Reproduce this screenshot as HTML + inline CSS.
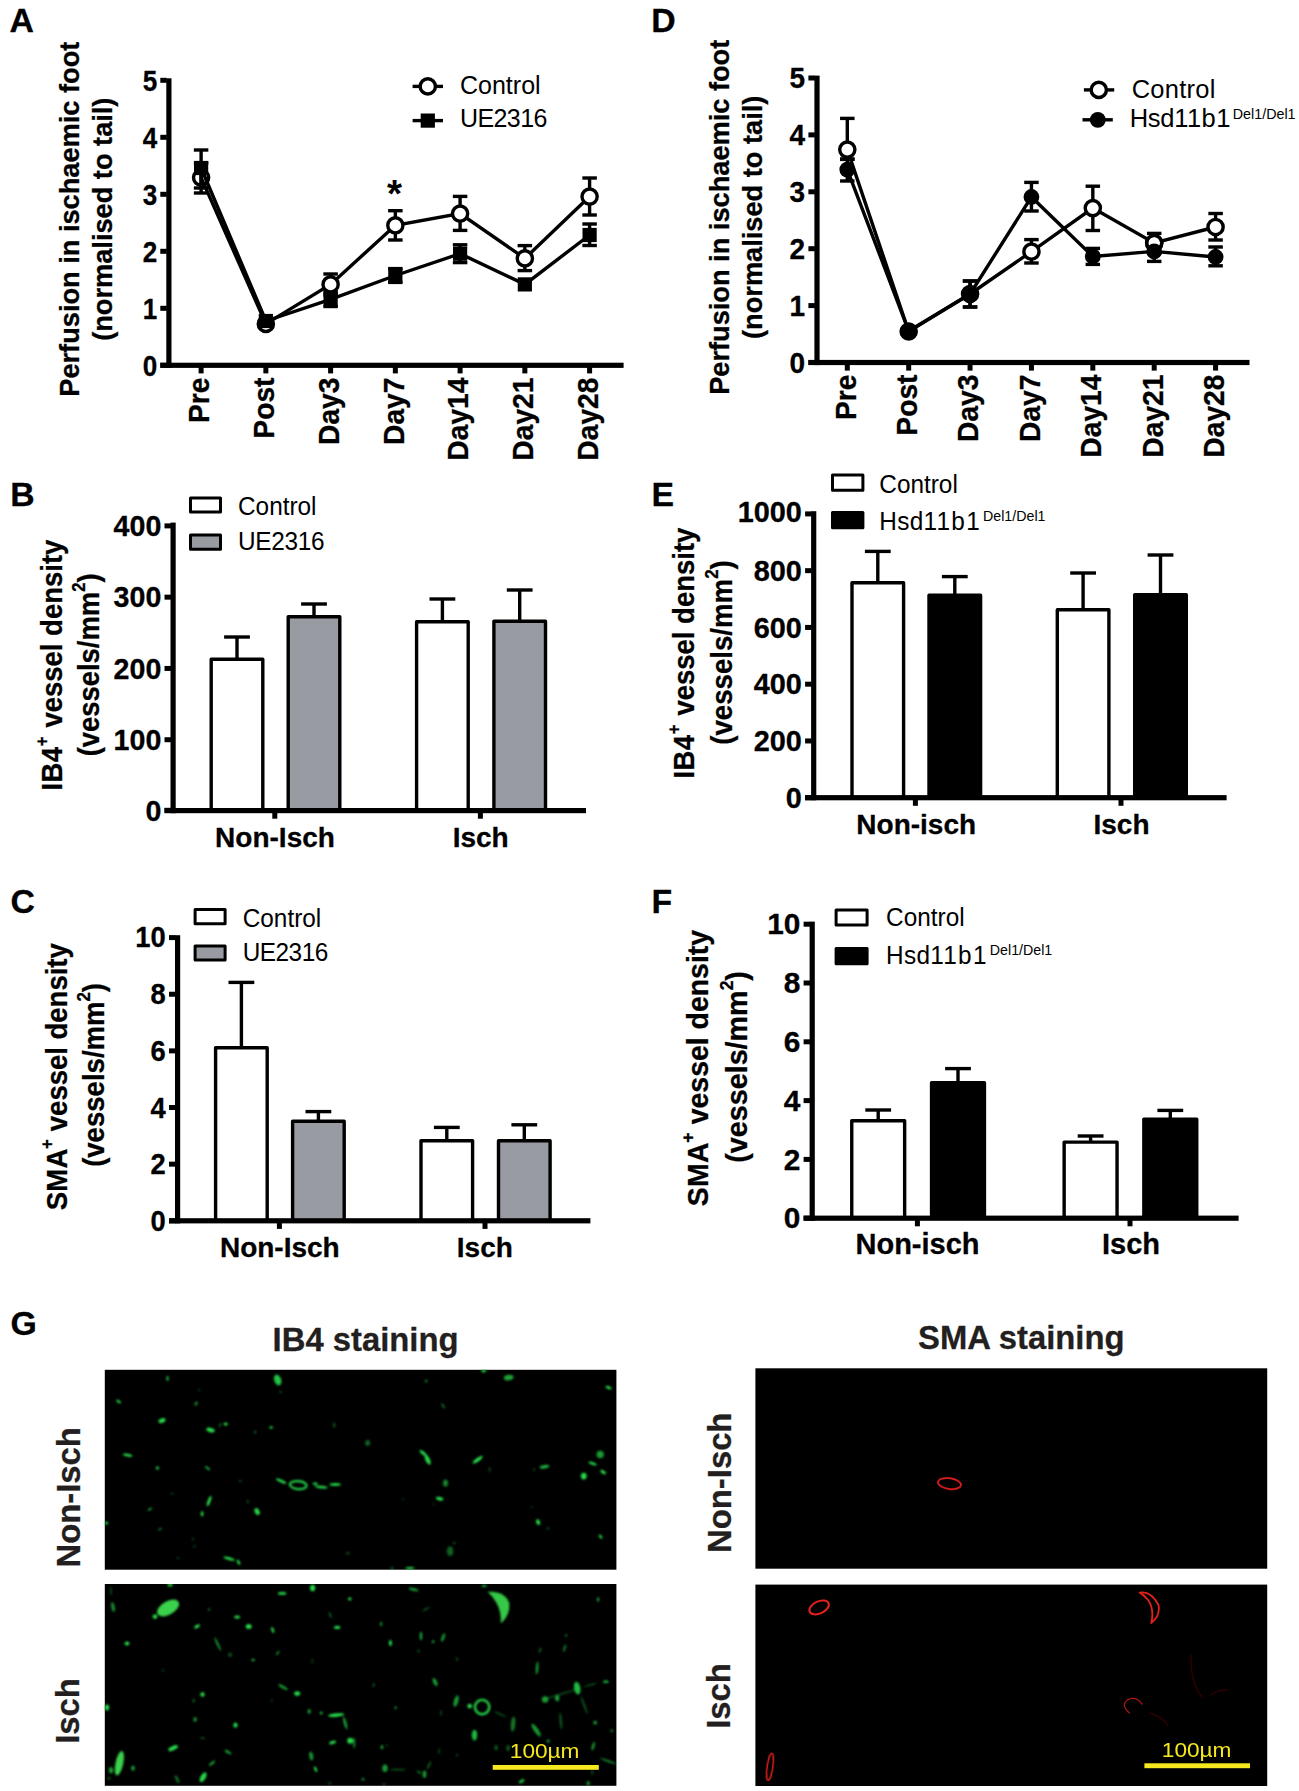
<!DOCTYPE html>
<html lang="en"><head><meta charset="utf-8"><title>Figure</title>
<style>
html,body{margin:0;padding:0;background:#fff;}
svg{display:block;font-family:"Liberation Sans", Arial, Helvetica, sans-serif;}
svg text[font-weight="bold"]{stroke:#000;stroke-width:0.3px;stroke-linejoin:round;}
</style></head>
<body>
<svg width="1299" height="1791" viewBox="0 0 1299 1791">
<defs><clipPath id="c1"><rect x="104.8" y="1369.8" width="511.6" height="199.9"/></clipPath><clipPath id="c2"><rect x="104.8" y="1584.0" width="511.6" height="201.8"/></clipPath><clipPath id="c3"><rect x="755.4" y="1368.3" width="511.8" height="200.4"/></clipPath><clipPath id="c4"><rect x="755.4" y="1584.6" width="511.8" height="201.4"/></clipPath><filter id="soft" x="-5%" y="-5%" width="110%" height="110%"><feGaussianBlur stdDeviation="1.0"/></filter><filter id="soft2" x="-5%" y="-5%" width="110%" height="110%"><feGaussianBlur stdDeviation="0.6"/></filter></defs>
<rect x="0" y="0" width="1299" height="1791" fill="#fff"/>
<text font-size="33.8" font-weight="bold" text-anchor="start" fill="#000" transform="translate(9.5 31.5)">A</text>
<rect x="166.30" y="78.30" width="5.20" height="289.60" fill="#000"/>
<rect x="160.30" y="362.70" width="463.30" height="5.20" fill="#000"/>
<rect x="160.30" y="362.80" width="6.50" height="5.00" fill="#000"/>
<text font-size="28.6" font-weight="bold" text-anchor="end" fill="#000" transform="translate(157.1 375.54) scale(0.91 1)">0</text>
<rect x="160.30" y="305.80" width="6.50" height="5.00" fill="#000"/>
<text font-size="28.6" font-weight="bold" text-anchor="end" fill="#000" transform="translate(157.1 318.54) scale(0.91 1)">1</text>
<rect x="160.30" y="248.80" width="6.50" height="5.00" fill="#000"/>
<text font-size="28.6" font-weight="bold" text-anchor="end" fill="#000" transform="translate(157.1 261.54) scale(0.91 1)">2</text>
<rect x="160.30" y="191.80" width="6.50" height="5.00" fill="#000"/>
<text font-size="28.6" font-weight="bold" text-anchor="end" fill="#000" transform="translate(157.1 204.54) scale(0.91 1)">3</text>
<rect x="160.30" y="134.80" width="6.50" height="5.00" fill="#000"/>
<text font-size="28.6" font-weight="bold" text-anchor="end" fill="#000" transform="translate(157.1 147.54) scale(0.91 1)">4</text>
<rect x="160.30" y="77.80" width="6.50" height="5.00" fill="#000"/>
<text font-size="28.6" font-weight="bold" text-anchor="end" fill="#000" transform="translate(157.1 90.54) scale(0.91 1)">5</text>
<rect x="198.60" y="365.30" width="5.00" height="8.10" fill="#000"/>
<rect x="263.35" y="365.30" width="5.00" height="8.10" fill="#000"/>
<rect x="328.10" y="365.30" width="5.00" height="8.10" fill="#000"/>
<rect x="392.85" y="365.30" width="5.00" height="8.10" fill="#000"/>
<rect x="457.60" y="365.30" width="5.00" height="8.10" fill="#000"/>
<rect x="522.35" y="365.30" width="5.00" height="8.10" fill="#000"/>
<rect x="587.10" y="365.30" width="5.00" height="8.10" fill="#000"/>
<text font-size="28.4" font-weight="bold" text-anchor="middle" transform="translate(79.3 219.2) rotate(-90) scale(0.958 1)">Perfusion in ischaemic foot</text>
<text font-size="28.4" font-weight="bold" text-anchor="middle" transform="translate(112.0 219.2) rotate(-90) scale(0.958 1)">(normalised to tail)</text>
<text font-size="28.8" font-weight="bold" text-anchor="end" transform="translate(209.3 377.5) rotate(-90) scale(0.98 1)">Pre</text>
<text font-size="28.8" font-weight="bold" text-anchor="end" transform="translate(274.05 377.5) rotate(-90) scale(0.98 1)">Post</text>
<text font-size="28.8" font-weight="bold" text-anchor="end" transform="translate(338.8 377.5) rotate(-90) scale(0.98 1)">Day3</text>
<text font-size="28.8" font-weight="bold" text-anchor="end" transform="translate(403.55 377.5) rotate(-90) scale(0.98 1)">Day7</text>
<text font-size="28.8" font-weight="bold" text-anchor="end" transform="translate(468.3 377.5) rotate(-90) scale(0.98 1)">Day14</text>
<text font-size="28.8" font-weight="bold" text-anchor="end" transform="translate(533.05 377.5) rotate(-90) scale(0.98 1)">Day21</text>
<text font-size="28.8" font-weight="bold" text-anchor="end" transform="translate(597.8 377.5) rotate(-90) scale(0.98 1)">Day28</text>
<polyline points="201.1,168.0 265.9,321.0 330.6,299.4 395.4,275.5 460.1,253.7 524.9,284.4 589.6,235.0" fill="none" stroke="#000" stroke-width="3.4" stroke-linejoin="miter"/>
<polyline points="201.1,177.6 265.9,323.9 330.6,284.4 395.4,225.3 460.1,213.6 524.9,258.4 589.6,196.6" fill="none" stroke="#000" stroke-width="3.4" stroke-linejoin="miter"/>
<line x1="201.1" y1="163" x2="201.1" y2="193" stroke="#000" stroke-width="3.4" stroke-linecap="butt"/>
<line x1="193.85" y1="163" x2="208.35" y2="163" stroke="#000" stroke-width="3.4" stroke-linecap="butt"/>
<line x1="193.85" y1="193" x2="208.35" y2="193" stroke="#000" stroke-width="3.4" stroke-linecap="butt"/>
<line x1="201.1" y1="150" x2="201.1" y2="188" stroke="#000" stroke-width="3.4" stroke-linecap="butt"/>
<line x1="193.85" y1="150" x2="208.35" y2="150" stroke="#000" stroke-width="3.4" stroke-linecap="butt"/>
<line x1="193.85" y1="188" x2="208.35" y2="188" stroke="#000" stroke-width="3.4" stroke-linecap="butt"/>
<line x1="330.6" y1="292" x2="330.6" y2="306.5" stroke="#000" stroke-width="3.4" stroke-linecap="butt"/>
<line x1="323.35" y1="292" x2="337.85" y2="292" stroke="#000" stroke-width="3.4" stroke-linecap="butt"/>
<line x1="323.35" y1="306.5" x2="337.85" y2="306.5" stroke="#000" stroke-width="3.4" stroke-linecap="butt"/>
<line x1="395.35" y1="268.6" x2="395.35" y2="282.4" stroke="#000" stroke-width="3.4" stroke-linecap="butt"/>
<line x1="388.1" y1="268.6" x2="402.6" y2="268.6" stroke="#000" stroke-width="3.4" stroke-linecap="butt"/>
<line x1="388.1" y1="282.4" x2="402.6" y2="282.4" stroke="#000" stroke-width="3.4" stroke-linecap="butt"/>
<line x1="460.1" y1="244.8" x2="460.1" y2="262.6" stroke="#000" stroke-width="3.4" stroke-linecap="butt"/>
<line x1="452.85" y1="244.8" x2="467.35" y2="244.8" stroke="#000" stroke-width="3.4" stroke-linecap="butt"/>
<line x1="452.85" y1="262.6" x2="467.35" y2="262.6" stroke="#000" stroke-width="3.4" stroke-linecap="butt"/>
<line x1="589.6" y1="224" x2="589.6" y2="245.5" stroke="#000" stroke-width="3.4" stroke-linecap="butt"/>
<line x1="582.35" y1="224" x2="596.85" y2="224" stroke="#000" stroke-width="3.4" stroke-linecap="butt"/>
<line x1="582.35" y1="245.5" x2="596.85" y2="245.5" stroke="#000" stroke-width="3.4" stroke-linecap="butt"/>
<rect x="194.00" y="160.90" width="14.20" height="14.20" fill="#000"/>
<rect x="258.75" y="313.90" width="14.20" height="14.20" fill="#000"/>
<rect x="323.50" y="292.30" width="14.20" height="14.20" fill="#000"/>
<rect x="388.25" y="268.40" width="14.20" height="14.20" fill="#000"/>
<rect x="453.00" y="246.60" width="14.20" height="14.20" fill="#000"/>
<rect x="517.75" y="277.30" width="14.20" height="14.20" fill="#000"/>
<rect x="582.50" y="227.90" width="14.20" height="14.20" fill="#000"/>
<line x1="330.6" y1="274" x2="330.6" y2="295" stroke="#000" stroke-width="3.4" stroke-linecap="butt"/>
<line x1="323.35" y1="274" x2="337.85" y2="274" stroke="#000" stroke-width="3.4" stroke-linecap="butt"/>
<line x1="323.35" y1="295" x2="337.85" y2="295" stroke="#000" stroke-width="3.4" stroke-linecap="butt"/>
<line x1="395.35" y1="210.7" x2="395.35" y2="240" stroke="#000" stroke-width="3.4" stroke-linecap="butt"/>
<line x1="388.1" y1="210.7" x2="402.6" y2="210.7" stroke="#000" stroke-width="3.4" stroke-linecap="butt"/>
<line x1="388.1" y1="240" x2="402.6" y2="240" stroke="#000" stroke-width="3.4" stroke-linecap="butt"/>
<line x1="460.1" y1="196.4" x2="460.1" y2="230.4" stroke="#000" stroke-width="3.4" stroke-linecap="butt"/>
<line x1="452.85" y1="196.4" x2="467.35" y2="196.4" stroke="#000" stroke-width="3.4" stroke-linecap="butt"/>
<line x1="452.85" y1="230.4" x2="467.35" y2="230.4" stroke="#000" stroke-width="3.4" stroke-linecap="butt"/>
<line x1="524.85" y1="245.6" x2="524.85" y2="270.6" stroke="#000" stroke-width="3.4" stroke-linecap="butt"/>
<line x1="517.6" y1="245.6" x2="532.1" y2="245.6" stroke="#000" stroke-width="3.4" stroke-linecap="butt"/>
<line x1="517.6" y1="270.6" x2="532.1" y2="270.6" stroke="#000" stroke-width="3.4" stroke-linecap="butt"/>
<line x1="589.6" y1="178" x2="589.6" y2="215" stroke="#000" stroke-width="3.4" stroke-linecap="butt"/>
<line x1="582.35" y1="178" x2="596.85" y2="178" stroke="#000" stroke-width="3.4" stroke-linecap="butt"/>
<line x1="582.35" y1="215" x2="596.85" y2="215" stroke="#000" stroke-width="3.4" stroke-linecap="butt"/>
<circle cx="201.1" cy="177.6" r="7.6" fill="none" stroke="#000" stroke-width="3.4"/>
<circle cx="265.85" cy="323.9" r="7.6" fill="none" stroke="#000" stroke-width="3.4"/>
<circle cx="330.6" cy="284.4" r="7.6" fill="#fff" stroke="#000" stroke-width="3.4"/>
<circle cx="395.35" cy="225.3" r="7.6" fill="#fff" stroke="#000" stroke-width="3.4"/>
<circle cx="460.1" cy="213.6" r="7.6" fill="#fff" stroke="#000" stroke-width="3.4"/>
<circle cx="524.85" cy="258.4" r="7.6" fill="#fff" stroke="#000" stroke-width="3.4"/>
<circle cx="589.6" cy="196.6" r="7.6" fill="#fff" stroke="#000" stroke-width="3.4"/>
<text font-size="38.6" font-weight="bold" text-anchor="middle" fill="#000" transform="translate(394.6 206.5)" style="stroke:none">*</text>
<line x1="412.6" y1="86.4" x2="443" y2="86.4" stroke="#000" stroke-width="3.4" stroke-linecap="butt"/>
<circle cx="427.8" cy="86.4" r="7.6" fill="#fff" stroke="#000" stroke-width="3.4"/>
<line x1="412.6" y1="120.6" x2="443" y2="120.6" stroke="#000" stroke-width="3.4" stroke-linecap="butt"/>
<rect x="420.70" y="113.50" width="14.20" height="14.20" fill="#000"/>
<text font-size="25" text-anchor="start" fill="#000" transform="translate(460 93.6)">Control</text>
<text font-size="25" text-anchor="start" fill="#000" transform="translate(460 127)" letter-spacing="-0.6">UE2316</text>
<text font-size="33.8" font-weight="bold" text-anchor="start" fill="#000" transform="translate(651.2 31.5)">D</text>
<rect x="814.40" y="75.60" width="5.20" height="289.50" fill="#000"/>
<rect x="808.40" y="359.90" width="441.10" height="5.20" fill="#000"/>
<rect x="808.40" y="360.00" width="6.50" height="5.00" fill="#000"/>
<text font-size="28.6" font-weight="bold" text-anchor="end" fill="#000" transform="translate(805.2 372.74) scale(0.98 1)">0</text>
<rect x="808.40" y="303.10" width="6.50" height="5.00" fill="#000"/>
<text font-size="28.6" font-weight="bold" text-anchor="end" fill="#000" transform="translate(805.2 315.84) scale(0.98 1)">1</text>
<rect x="808.40" y="246.20" width="6.50" height="5.00" fill="#000"/>
<text font-size="28.6" font-weight="bold" text-anchor="end" fill="#000" transform="translate(805.2 258.94) scale(0.98 1)">2</text>
<rect x="808.40" y="189.30" width="6.50" height="5.00" fill="#000"/>
<text font-size="28.6" font-weight="bold" text-anchor="end" fill="#000" transform="translate(805.2 202.04) scale(0.98 1)">3</text>
<rect x="808.40" y="132.40" width="6.50" height="5.00" fill="#000"/>
<text font-size="28.6" font-weight="bold" text-anchor="end" fill="#000" transform="translate(805.2 145.14) scale(0.98 1)">4</text>
<rect x="808.40" y="75.50" width="6.50" height="5.00" fill="#000"/>
<text font-size="28.6" font-weight="bold" text-anchor="end" fill="#000" transform="translate(805.2 88.24) scale(0.98 1)">5</text>
<rect x="844.80" y="362.50" width="5.00" height="8.10" fill="#000"/>
<rect x="906.18" y="362.50" width="5.00" height="8.10" fill="#000"/>
<rect x="967.56" y="362.50" width="5.00" height="8.10" fill="#000"/>
<rect x="1028.94" y="362.50" width="5.00" height="8.10" fill="#000"/>
<rect x="1090.32" y="362.50" width="5.00" height="8.10" fill="#000"/>
<rect x="1151.70" y="362.50" width="5.00" height="8.10" fill="#000"/>
<rect x="1213.08" y="362.50" width="5.00" height="8.10" fill="#000"/>
<text font-size="28.4" font-weight="bold" text-anchor="middle" transform="translate(728.6 217.3) rotate(-90) scale(0.958 1)">Perfusion in ischaemic foot</text>
<text font-size="28.4" font-weight="bold" text-anchor="middle" transform="translate(761.6 217.3) rotate(-90) scale(0.958 1)">(normalised to tail)</text>
<text font-size="28.8" font-weight="bold" text-anchor="end" transform="translate(855.6 374.5) rotate(-90) scale(0.98 1)">Pre</text>
<text font-size="28.8" font-weight="bold" text-anchor="end" transform="translate(916.98 374.5) rotate(-90) scale(0.98 1)">Post</text>
<text font-size="28.8" font-weight="bold" text-anchor="end" transform="translate(978.36 374.5) rotate(-90) scale(0.98 1)">Day3</text>
<text font-size="28.8" font-weight="bold" text-anchor="end" transform="translate(1039.74 374.5) rotate(-90) scale(0.98 1)">Day7</text>
<text font-size="28.8" font-weight="bold" text-anchor="end" transform="translate(1101.12 374.5) rotate(-90) scale(0.98 1)">Day14</text>
<text font-size="28.8" font-weight="bold" text-anchor="end" transform="translate(1162.5 374.5) rotate(-90) scale(0.98 1)">Day21</text>
<text font-size="28.8" font-weight="bold" text-anchor="end" transform="translate(1223.88 374.5) rotate(-90) scale(0.98 1)">Day28</text>
<polyline points="847.3,149.6 908.7,331.5 970.1,294.0 1031.4,251.6 1092.8,208.1 1154.2,243.0 1215.6,227.0" fill="none" stroke="#000" stroke-width="3.4" stroke-linejoin="miter"/>
<polyline points="847.3,169.6 908.7,331.0 970.1,294.0 1031.4,197.0 1092.8,256.4 1154.2,251.4 1215.6,257.0" fill="none" stroke="#000" stroke-width="3.4" stroke-linejoin="miter"/>
<line x1="847.3" y1="118.4" x2="847.3" y2="159.4" stroke="#000" stroke-width="3.4" stroke-linecap="butt"/>
<line x1="840.05" y1="118.4" x2="854.55" y2="118.4" stroke="#000" stroke-width="3.4" stroke-linecap="butt"/>
<line x1="840.05" y1="159.4" x2="854.55" y2="159.4" stroke="#000" stroke-width="3.4" stroke-linecap="butt"/>
<line x1="970.06" y1="281" x2="970.06" y2="307" stroke="#000" stroke-width="3.4" stroke-linecap="butt"/>
<line x1="962.81" y1="281" x2="977.31" y2="281" stroke="#000" stroke-width="3.4" stroke-linecap="butt"/>
<line x1="962.81" y1="307" x2="977.31" y2="307" stroke="#000" stroke-width="3.4" stroke-linecap="butt"/>
<line x1="1031.44" y1="239.6" x2="1031.44" y2="263" stroke="#000" stroke-width="3.4" stroke-linecap="butt"/>
<line x1="1024.19" y1="239.6" x2="1038.69" y2="239.6" stroke="#000" stroke-width="3.4" stroke-linecap="butt"/>
<line x1="1024.19" y1="263" x2="1038.69" y2="263" stroke="#000" stroke-width="3.4" stroke-linecap="butt"/>
<line x1="1092.82" y1="186.2" x2="1092.82" y2="230.5" stroke="#000" stroke-width="3.4" stroke-linecap="butt"/>
<line x1="1085.57" y1="186.2" x2="1100.07" y2="186.2" stroke="#000" stroke-width="3.4" stroke-linecap="butt"/>
<line x1="1085.57" y1="230.5" x2="1100.07" y2="230.5" stroke="#000" stroke-width="3.4" stroke-linecap="butt"/>
<line x1="1154.2" y1="233.4" x2="1154.2" y2="253" stroke="#000" stroke-width="3.4" stroke-linecap="butt"/>
<line x1="1146.95" y1="233.4" x2="1161.45" y2="233.4" stroke="#000" stroke-width="3.4" stroke-linecap="butt"/>
<line x1="1146.95" y1="253" x2="1161.45" y2="253" stroke="#000" stroke-width="3.4" stroke-linecap="butt"/>
<line x1="1215.58" y1="213.5" x2="1215.58" y2="240" stroke="#000" stroke-width="3.4" stroke-linecap="butt"/>
<line x1="1208.33" y1="213.5" x2="1222.83" y2="213.5" stroke="#000" stroke-width="3.4" stroke-linecap="butt"/>
<line x1="1208.33" y1="240" x2="1222.83" y2="240" stroke="#000" stroke-width="3.4" stroke-linecap="butt"/>
<line x1="847.3" y1="159" x2="847.3" y2="181" stroke="#000" stroke-width="3.4" stroke-linecap="butt"/>
<line x1="840.05" y1="159" x2="854.55" y2="159" stroke="#000" stroke-width="3.4" stroke-linecap="butt"/>
<line x1="840.05" y1="181" x2="854.55" y2="181" stroke="#000" stroke-width="3.4" stroke-linecap="butt"/>
<line x1="970.06" y1="281" x2="970.06" y2="307" stroke="#000" stroke-width="3.4" stroke-linecap="butt"/>
<line x1="962.81" y1="281" x2="977.31" y2="281" stroke="#000" stroke-width="3.4" stroke-linecap="butt"/>
<line x1="962.81" y1="307" x2="977.31" y2="307" stroke="#000" stroke-width="3.4" stroke-linecap="butt"/>
<line x1="1031.44" y1="182.4" x2="1031.44" y2="211" stroke="#000" stroke-width="3.4" stroke-linecap="butt"/>
<line x1="1024.19" y1="182.4" x2="1038.69" y2="182.4" stroke="#000" stroke-width="3.4" stroke-linecap="butt"/>
<line x1="1024.19" y1="211" x2="1038.69" y2="211" stroke="#000" stroke-width="3.4" stroke-linecap="butt"/>
<line x1="1092.82" y1="248.4" x2="1092.82" y2="264.4" stroke="#000" stroke-width="3.4" stroke-linecap="butt"/>
<line x1="1085.57" y1="248.4" x2="1100.07" y2="248.4" stroke="#000" stroke-width="3.4" stroke-linecap="butt"/>
<line x1="1085.57" y1="264.4" x2="1100.07" y2="264.4" stroke="#000" stroke-width="3.4" stroke-linecap="butt"/>
<line x1="1154.2" y1="241.5" x2="1154.2" y2="261.4" stroke="#000" stroke-width="3.4" stroke-linecap="butt"/>
<line x1="1146.95" y1="241.5" x2="1161.45" y2="241.5" stroke="#000" stroke-width="3.4" stroke-linecap="butt"/>
<line x1="1146.95" y1="261.4" x2="1161.45" y2="261.4" stroke="#000" stroke-width="3.4" stroke-linecap="butt"/>
<line x1="1215.58" y1="247" x2="1215.58" y2="265.8" stroke="#000" stroke-width="3.4" stroke-linecap="butt"/>
<line x1="1208.33" y1="247" x2="1222.83" y2="247" stroke="#000" stroke-width="3.4" stroke-linecap="butt"/>
<line x1="1208.33" y1="265.8" x2="1222.83" y2="265.8" stroke="#000" stroke-width="3.4" stroke-linecap="butt"/>
<circle cx="847.3" cy="149.6" r="7.6" fill="#fff" stroke="#000" stroke-width="3.4"/>
<circle cx="908.68" cy="331.5" r="7.6" fill="#fff" stroke="#000" stroke-width="3.4"/>
<circle cx="970.06" cy="294" r="7.6" fill="#fff" stroke="#000" stroke-width="3.4"/>
<circle cx="1031.44" cy="251.6" r="7.6" fill="#fff" stroke="#000" stroke-width="3.4"/>
<circle cx="1092.82" cy="208.1" r="7.6" fill="#fff" stroke="#000" stroke-width="3.4"/>
<circle cx="1154.2" cy="243" r="7.6" fill="#fff" stroke="#000" stroke-width="3.4"/>
<circle cx="1215.58" cy="227" r="7.6" fill="#fff" stroke="#000" stroke-width="3.4"/>
<circle cx="847.3" cy="169.6" r="7.9" fill="#000"/>
<circle cx="908.68" cy="331" r="7.9" fill="#000"/>
<circle cx="970.06" cy="294" r="7.9" fill="#000"/>
<circle cx="1031.44" cy="197" r="7.9" fill="#000"/>
<circle cx="1092.82" cy="256.4" r="7.9" fill="#000"/>
<circle cx="1154.2" cy="251.4" r="7.9" fill="#000"/>
<circle cx="1215.58" cy="257" r="7.9" fill="#000"/>
<circle cx="1154.2" cy="243" r="7.6" fill="none" stroke="#000" stroke-width="3.4"/>
<line x1="1083.9" y1="89.9" x2="1114.2" y2="89.9" stroke="#000" stroke-width="3.4" stroke-linecap="butt"/>
<circle cx="1098.8" cy="89.9" r="7.6" fill="#fff" stroke="#000" stroke-width="3.4"/>
<line x1="1082.5" y1="119.8" x2="1112.8" y2="119.8" stroke="#000" stroke-width="3.4" stroke-linecap="butt"/>
<circle cx="1097.8" cy="119.8" r="7.9" fill="#000"/>
<text font-size="25.5" text-anchor="start" fill="#000" transform="translate(1131.7 97.9)" letter-spacing="0.25">Control</text>
<text x="1129.7" y="127.4" font-size="25.5"><tspan letter-spacing="-0.3">Hsd</tspan><tspan letter-spacing="0.5">11b1</tspan><tspan font-size="14.3" dy="-8.6" dx="1.8" letter-spacing="0">Del1/Del1</tspan></text>
<text font-size="33.8" font-weight="bold" text-anchor="start" fill="#000" transform="translate(10.3 505.5)">B</text>
<line x1="237" y1="637" x2="237" y2="659.6" stroke="#000" stroke-width="3.4" stroke-linecap="butt"/>
<line x1="224.1" y1="637" x2="249.9" y2="637" stroke="#000" stroke-width="3.4" stroke-linecap="butt"/>
<line x1="314" y1="604" x2="314" y2="617" stroke="#000" stroke-width="3.4" stroke-linecap="butt"/>
<line x1="301.1" y1="604" x2="326.9" y2="604" stroke="#000" stroke-width="3.4" stroke-linecap="butt"/>
<line x1="442.4" y1="599" x2="442.4" y2="622" stroke="#000" stroke-width="3.4" stroke-linecap="butt"/>
<line x1="429.5" y1="599" x2="455.29999999999995" y2="599" stroke="#000" stroke-width="3.4" stroke-linecap="butt"/>
<line x1="519.7" y1="590" x2="519.7" y2="621.6" stroke="#000" stroke-width="3.4" stroke-linecap="butt"/>
<line x1="506.80000000000007" y1="590" x2="532.6" y2="590" stroke="#000" stroke-width="3.4" stroke-linecap="butt"/>
<rect x="211.20" y="659.30" width="51.60" height="151.30" fill="#fff" stroke="#000" stroke-width="3.4" stroke-linejoin="round"/>
<rect x="288.20" y="616.70" width="51.60" height="193.90" fill="#999ba3" stroke="#000" stroke-width="3.4" stroke-linejoin="round"/>
<rect x="416.60" y="621.70" width="51.60" height="188.90" fill="#fff" stroke="#000" stroke-width="3.4" stroke-linejoin="round"/>
<rect x="493.90" y="621.30" width="51.60" height="189.30" fill="#999ba3" stroke="#000" stroke-width="3.4" stroke-linejoin="round"/>
<rect x="170.50" y="522.60" width="5.20" height="290.60" fill="#000"/>
<rect x="164.50" y="808.00" width="421.50" height="5.20" fill="#000"/>
<rect x="164.50" y="807.80" width="6.50" height="5.00" fill="#000"/>
<text font-size="28.6" font-weight="bold" text-anchor="end" fill="#000" transform="translate(161.3 820.54)">0</text>
<rect x="164.50" y="737.22" width="6.50" height="5.00" fill="#000"/>
<text font-size="28.6" font-weight="bold" text-anchor="end" fill="#000" transform="translate(161.3 749.96)">100</text>
<rect x="164.50" y="665.94" width="6.50" height="5.00" fill="#000"/>
<text font-size="28.6" font-weight="bold" text-anchor="end" fill="#000" transform="translate(161.3 678.68)">200</text>
<rect x="164.50" y="594.66" width="6.50" height="5.00" fill="#000"/>
<text font-size="28.6" font-weight="bold" text-anchor="end" fill="#000" transform="translate(161.3 607.4)">300</text>
<rect x="164.50" y="523.38" width="6.50" height="5.00" fill="#000"/>
<text font-size="28.6" font-weight="bold" text-anchor="end" fill="#000" transform="translate(161.3 536.12)">400</text>
<rect x="272.30" y="810.60" width="5.00" height="8.10" fill="#000"/>
<rect x="477.90" y="810.60" width="5.00" height="8.10" fill="#000"/>
<text font-size="28" font-weight="bold" text-anchor="middle" fill="#000" transform="translate(275 847)">Non-Isch</text>
<text font-size="28" font-weight="bold" text-anchor="middle" fill="#000" transform="translate(480.7 847)">Isch</text>
<text font-size="28.8" font-weight="bold" text-anchor="start" transform="translate(61.9 790.54) rotate(-90) scale(0.955 1)"><tspan letter-spacing="0.4">IB4</tspan><tspan font-size="17.5" dy="-14.0" dx="0.3">+</tspan><tspan dy="14.0" dx="1.4"> vessel density</tspan></text>
<text font-size="28.8" font-weight="bold" text-anchor="start" transform="translate(98.8 756.37) rotate(-90) scale(0.952 1)">(vessels/mm<tspan font-size="17.5" dy="-14.0">2</tspan><tspan dy="14.0">)</tspan></text>
<rect x="190.50" y="497.90" width="30.00" height="14.20" fill="#fff" stroke="#000" stroke-width="3" stroke-linejoin="round"/>
<rect x="190.50" y="535.10" width="30.00" height="14.20" fill="#999ba3" stroke="#000" stroke-width="3" stroke-linejoin="round"/>
<text font-size="25" text-anchor="start" fill="#000" transform="translate(238 515) scale(0.975 1)">Control</text>
<text font-size="25" text-anchor="start" fill="#000" transform="translate(238 550) scale(0.975 1)" letter-spacing="-0.3">UE2316</text>
<text font-size="33.8" font-weight="bold" text-anchor="start" fill="#000" transform="translate(10.5 912.8)">C</text>
<line x1="241.4" y1="982.4" x2="241.4" y2="1048" stroke="#000" stroke-width="3.4" stroke-linecap="butt"/>
<line x1="228.5" y1="982.4" x2="254.3" y2="982.4" stroke="#000" stroke-width="3.4" stroke-linecap="butt"/>
<line x1="318.4" y1="1111.6" x2="318.4" y2="1121.6" stroke="#000" stroke-width="3.4" stroke-linecap="butt"/>
<line x1="305.5" y1="1111.6" x2="331.29999999999995" y2="1111.6" stroke="#000" stroke-width="3.4" stroke-linecap="butt"/>
<line x1="446.8" y1="1127.4" x2="446.8" y2="1141" stroke="#000" stroke-width="3.4" stroke-linecap="butt"/>
<line x1="433.90000000000003" y1="1127.4" x2="459.7" y2="1127.4" stroke="#000" stroke-width="3.4" stroke-linecap="butt"/>
<line x1="524.3" y1="1124.8" x2="524.3" y2="1141" stroke="#000" stroke-width="3.4" stroke-linecap="butt"/>
<line x1="511.4" y1="1124.8" x2="537.1999999999999" y2="1124.8" stroke="#000" stroke-width="3.4" stroke-linecap="butt"/>
<rect x="215.60" y="1047.70" width="51.60" height="173.10" fill="#fff" stroke="#000" stroke-width="3.4" stroke-linejoin="round"/>
<rect x="292.60" y="1121.30" width="51.60" height="99.50" fill="#999ba3" stroke="#000" stroke-width="3.4" stroke-linejoin="round"/>
<rect x="421.00" y="1140.70" width="51.60" height="80.10" fill="#fff" stroke="#000" stroke-width="3.4" stroke-linejoin="round"/>
<rect x="498.50" y="1140.70" width="51.60" height="80.10" fill="#999ba3" stroke="#000" stroke-width="3.4" stroke-linejoin="round"/>
<rect x="175.00" y="935.20" width="5.20" height="288.20" fill="#000"/>
<rect x="169.00" y="1218.20" width="421.40" height="5.20" fill="#000"/>
<rect x="169.00" y="1218.30" width="6.50" height="5.00" fill="#000"/>
<text font-size="28.6" font-weight="bold" text-anchor="end" fill="#000" transform="translate(165.8 1231.04) scale(0.957 1)">0</text>
<rect x="169.00" y="1161.66" width="6.50" height="5.00" fill="#000"/>
<text font-size="28.6" font-weight="bold" text-anchor="end" fill="#000" transform="translate(165.8 1174.4) scale(0.957 1)">2</text>
<rect x="169.00" y="1105.02" width="6.50" height="5.00" fill="#000"/>
<text font-size="28.6" font-weight="bold" text-anchor="end" fill="#000" transform="translate(165.8 1117.76) scale(0.957 1)">4</text>
<rect x="169.00" y="1048.38" width="6.50" height="5.00" fill="#000"/>
<text font-size="28.6" font-weight="bold" text-anchor="end" fill="#000" transform="translate(165.8 1061.12) scale(0.957 1)">6</text>
<rect x="169.00" y="991.74" width="6.50" height="5.00" fill="#000"/>
<text font-size="28.6" font-weight="bold" text-anchor="end" fill="#000" transform="translate(165.8 1004.48) scale(0.957 1)">8</text>
<rect x="169.00" y="935.10" width="6.50" height="5.00" fill="#000"/>
<text font-size="28.6" font-weight="bold" text-anchor="end" fill="#000" transform="translate(165.8 946.84) scale(0.957 1)">10</text>
<rect x="276.90" y="1220.80" width="5.00" height="8.10" fill="#000"/>
<rect x="482.50" y="1220.80" width="5.00" height="8.10" fill="#000"/>
<text font-size="28" font-weight="bold" text-anchor="middle" fill="#000" transform="translate(279.8 1257)">Non-Isch</text>
<text font-size="28" font-weight="bold" text-anchor="middle" fill="#000" transform="translate(484.8 1257)">Isch</text>
<text font-size="28.8" font-weight="bold" text-anchor="start" transform="translate(66.9 1210.34) rotate(-90) scale(0.955 1)"><tspan letter-spacing="0.3">SMA</tspan><tspan font-size="17.5" dy="-14.0" dx="-0.6">+</tspan><tspan dy="14.0" dx="0.4"> vessel density</tspan></text>
<text font-size="28.8" font-weight="bold" text-anchor="start" transform="translate(104.1 1166.87) rotate(-90) scale(0.957 1)">(vessels/mm<tspan font-size="17.5" dy="-14.0">2</tspan><tspan dy="14.0">)</tspan></text>
<rect x="195.10" y="909.50" width="30.00" height="14.20" fill="#fff" stroke="#000" stroke-width="3" stroke-linejoin="round"/>
<rect x="195.10" y="945.90" width="30.00" height="14.20" fill="#999ba3" stroke="#000" stroke-width="3" stroke-linejoin="round"/>
<text font-size="25" text-anchor="start" fill="#000" transform="translate(242.7 926.6) scale(0.975 1)">Control</text>
<text font-size="25" text-anchor="start" fill="#000" transform="translate(242.7 961) scale(0.975 1)" letter-spacing="-0.5">UE2316</text>
<text font-size="33.8" font-weight="bold" text-anchor="start" fill="#000" transform="translate(651.4 505.5)">E</text>
<line x1="877.8" y1="551.4" x2="877.8" y2="583" stroke="#000" stroke-width="3.4" stroke-linecap="butt"/>
<line x1="864.9" y1="551.4" x2="890.6999999999999" y2="551.4" stroke="#000" stroke-width="3.4" stroke-linecap="butt"/>
<line x1="954.8" y1="576.6" x2="954.8" y2="595.6" stroke="#000" stroke-width="3.4" stroke-linecap="butt"/>
<line x1="941.9" y1="576.6" x2="967.6999999999999" y2="576.6" stroke="#000" stroke-width="3.4" stroke-linecap="butt"/>
<line x1="1083.1" y1="573" x2="1083.1" y2="610" stroke="#000" stroke-width="3.4" stroke-linecap="butt"/>
<line x1="1070.1999999999998" y1="573" x2="1096.0" y2="573" stroke="#000" stroke-width="3.4" stroke-linecap="butt"/>
<line x1="1160.5" y1="555" x2="1160.5" y2="595" stroke="#000" stroke-width="3.4" stroke-linecap="butt"/>
<line x1="1147.6" y1="555" x2="1173.4" y2="555" stroke="#000" stroke-width="3.4" stroke-linecap="butt"/>
<rect x="852.00" y="582.70" width="51.60" height="215.00" fill="#fff" stroke="#000" stroke-width="3.4" stroke-linejoin="round"/>
<rect x="929.00" y="595.30" width="51.60" height="202.40" fill="#000" stroke="#000" stroke-width="3.4" stroke-linejoin="round"/>
<rect x="1057.30" y="609.70" width="51.60" height="188.00" fill="#fff" stroke="#000" stroke-width="3.4" stroke-linejoin="round"/>
<rect x="1134.70" y="594.70" width="51.60" height="203.00" fill="#000" stroke="#000" stroke-width="3.4" stroke-linejoin="round"/>
<rect x="811.10" y="511.20" width="5.20" height="289.10" fill="#000"/>
<rect x="805.10" y="795.10" width="421.50" height="5.20" fill="#000"/>
<rect x="805.10" y="795.20" width="6.50" height="5.00" fill="#000"/>
<text font-size="28.6" font-weight="bold" text-anchor="end" fill="#000" transform="translate(801.9 807.94) scale(1.01 1)">0</text>
<rect x="805.10" y="738.44" width="6.50" height="5.00" fill="#000"/>
<text font-size="28.6" font-weight="bold" text-anchor="end" fill="#000" transform="translate(801.9 751.18) scale(1.01 1)">200</text>
<rect x="805.10" y="681.68" width="6.50" height="5.00" fill="#000"/>
<text font-size="28.6" font-weight="bold" text-anchor="end" fill="#000" transform="translate(801.9 694.42) scale(1.01 1)">400</text>
<rect x="805.10" y="624.92" width="6.50" height="5.00" fill="#000"/>
<text font-size="28.6" font-weight="bold" text-anchor="end" fill="#000" transform="translate(801.9 637.66) scale(1.01 1)">600</text>
<rect x="805.10" y="568.16" width="6.50" height="5.00" fill="#000"/>
<text font-size="28.6" font-weight="bold" text-anchor="end" fill="#000" transform="translate(801.9 580.9) scale(1.01 1)">800</text>
<rect x="805.10" y="511.40" width="6.50" height="5.00" fill="#000"/>
<text font-size="28.6" font-weight="bold" text-anchor="end" fill="#000" transform="translate(801.9 522.34) scale(1.01 1)">1000</text>
<rect x="912.90" y="797.70" width="5.00" height="8.10" fill="#000"/>
<rect x="1118.50" y="797.70" width="5.00" height="8.10" fill="#000"/>
<text font-size="28" font-weight="bold" text-anchor="middle" fill="#000" transform="translate(916.2 834.4)">Non-isch</text>
<text font-size="28" font-weight="bold" text-anchor="middle" fill="#000" transform="translate(1121.5 834.4)">Isch</text>
<text font-size="28.8" font-weight="bold" text-anchor="start" transform="translate(694.1 778.54) rotate(-90) scale(0.955 1)"><tspan letter-spacing="0.4">IB4</tspan><tspan font-size="17.5" dy="-14.0" dx="0.3">+</tspan><tspan dy="14.0" dx="1.4"> vessel density</tspan></text>
<text font-size="28.8" font-weight="bold" text-anchor="start" transform="translate(731.6 744.78) rotate(-90) scale(0.96 1)">(vessels/mm<tspan font-size="17.5" dy="-14.0">2</tspan><tspan dy="14.0">)</tspan></text>
<rect x="832.50" y="475.10" width="30.40" height="15.20" fill="#fff" stroke="#000" stroke-width="3" stroke-linejoin="round"/>
<rect x="832.50" y="512.50" width="30.40" height="15.20" fill="#000" stroke="#000" stroke-width="3" stroke-linejoin="round"/>
<text font-size="25" text-anchor="start" fill="#000" transform="translate(879.3 493) scale(0.975 1)">Control</text>
<text font-size="25" text-anchor="start" fill="#000" transform="translate(879.3 530) scale(0.975 1)" letter-spacing="0"><tspan letter-spacing="0.3">Hsd</tspan><tspan letter-spacing="1.3">11b1</tspan><tspan font-size="14.6" dy="-8.6" dx="2.1">Del1/Del1</tspan></text>
<text font-size="33.8" font-weight="bold" text-anchor="start" fill="#000" transform="translate(651.4 912.6)">F</text>
<line x1="878.2" y1="1110" x2="878.2" y2="1121" stroke="#000" stroke-width="3.4" stroke-linecap="butt"/>
<line x1="865.3000000000001" y1="1110" x2="891.1" y2="1110" stroke="#000" stroke-width="3.4" stroke-linecap="butt"/>
<line x1="958" y1="1068.6" x2="958" y2="1083" stroke="#000" stroke-width="3.4" stroke-linecap="butt"/>
<line x1="945.1" y1="1068.6" x2="970.9" y2="1068.6" stroke="#000" stroke-width="3.4" stroke-linecap="butt"/>
<line x1="1090.6" y1="1136" x2="1090.6" y2="1142.4" stroke="#000" stroke-width="3.4" stroke-linecap="butt"/>
<line x1="1077.6999999999998" y1="1136" x2="1103.5" y2="1136" stroke="#000" stroke-width="3.4" stroke-linecap="butt"/>
<line x1="1170.3" y1="1110.4" x2="1170.3" y2="1119.4" stroke="#000" stroke-width="3.4" stroke-linecap="butt"/>
<line x1="1157.3999999999999" y1="1110.4" x2="1183.2" y2="1110.4" stroke="#000" stroke-width="3.4" stroke-linecap="butt"/>
<rect x="851.75" y="1120.70" width="52.90" height="97.50" fill="#fff" stroke="#000" stroke-width="3.4" stroke-linejoin="round"/>
<rect x="931.55" y="1082.70" width="52.90" height="135.50" fill="#000" stroke="#000" stroke-width="3.4" stroke-linejoin="round"/>
<rect x="1064.15" y="1142.10" width="52.90" height="76.10" fill="#fff" stroke="#000" stroke-width="3.4" stroke-linejoin="round"/>
<rect x="1143.85" y="1119.10" width="52.90" height="99.10" fill="#000" stroke="#000" stroke-width="3.4" stroke-linejoin="round"/>
<rect x="809.60" y="921.60" width="5.20" height="299.20" fill="#000"/>
<rect x="803.60" y="1215.60" width="435.00" height="5.20" fill="#000"/>
<rect x="803.60" y="1215.70" width="6.50" height="5.00" fill="#000"/>
<text font-size="28.6" font-weight="bold" text-anchor="end" fill="#000" transform="translate(800.4 1228.44) scale(1.045 1)">0</text>
<rect x="803.60" y="1156.90" width="6.50" height="5.00" fill="#000"/>
<text font-size="28.6" font-weight="bold" text-anchor="end" fill="#000" transform="translate(800.4 1169.64) scale(1.045 1)">2</text>
<rect x="803.60" y="1098.10" width="6.50" height="5.00" fill="#000"/>
<text font-size="28.6" font-weight="bold" text-anchor="end" fill="#000" transform="translate(800.4 1110.84) scale(1.045 1)">4</text>
<rect x="803.60" y="1039.30" width="6.50" height="5.00" fill="#000"/>
<text font-size="28.6" font-weight="bold" text-anchor="end" fill="#000" transform="translate(800.4 1052.04) scale(1.045 1)">6</text>
<rect x="803.60" y="980.50" width="6.50" height="5.00" fill="#000"/>
<text font-size="28.6" font-weight="bold" text-anchor="end" fill="#000" transform="translate(800.4 993.24) scale(1.045 1)">8</text>
<rect x="803.60" y="921.70" width="6.50" height="5.00" fill="#000"/>
<text font-size="28.6" font-weight="bold" text-anchor="end" fill="#000" transform="translate(800.4 934.44) scale(1.045 1)">10</text>
<rect x="914.90" y="1218.20" width="5.00" height="8.10" fill="#000"/>
<rect x="1127.50" y="1218.20" width="5.00" height="8.10" fill="#000"/>
<text font-size="29" font-weight="bold" text-anchor="middle" fill="#000" transform="translate(917.5 1254.2)">Non-isch</text>
<text font-size="29" font-weight="bold" text-anchor="middle" fill="#000" transform="translate(1131 1254.2)">Isch</text>
<text font-size="28.8" font-weight="bold" text-anchor="start" transform="translate(708.3 1206.20) rotate(-90) scale(0.988 1)"><tspan letter-spacing="0.3">SMA</tspan><tspan font-size="17.5" dy="-14.0" dx="-0.6">+</tspan><tspan dy="14.0" dx="0.4"> vessel density</tspan></text>
<text font-size="28.8" font-weight="bold" text-anchor="start" transform="translate(746.8 1162.73) rotate(-90) scale(0.997 1)">(vessels/mm<tspan font-size="17.5" dy="-14.0">2</tspan><tspan dy="14.0">)</tspan></text>
<rect x="836.10" y="909.90" width="31.00" height="15.20" fill="#fff" stroke="#000" stroke-width="3" stroke-linejoin="round"/>
<rect x="836.10" y="948.50" width="31.00" height="15.20" fill="#000" stroke="#000" stroke-width="3" stroke-linejoin="round"/>
<text font-size="25" text-anchor="start" fill="#000" transform="translate(886.1 926) scale(0.975 1)">Control</text>
<text font-size="25" text-anchor="start" fill="#000" transform="translate(886.1 963.6) scale(0.975 1)" letter-spacing="0"><tspan letter-spacing="0.3">Hsd</tspan><tspan letter-spacing="1.3">11b1</tspan><tspan font-size="14.6" dy="-8.6" dx="2.1">Del1/Del1</tspan></text>
<text font-size="33.8" font-weight="bold" text-anchor="start" fill="#000" transform="translate(10.5 1334.9)">G</text>
<text font-size="32.8" font-weight="bold" text-anchor="start" fill="#231f20" transform="translate(272.6 1350.8)" style="stroke:#231f20">IB4 staining</text>
<text font-size="32.8" font-weight="bold" text-anchor="start" fill="#231f20" transform="translate(918.0 1349.3)" style="stroke:#231f20">SMA staining</text>
<rect x="104.80" y="1369.80" width="511.60" height="199.90" fill="#000"/>
<rect x="104.80" y="1584.00" width="511.60" height="201.80" fill="#000"/>
<rect x="755.40" y="1368.30" width="511.80" height="200.40" fill="#000"/>
<rect x="755.40" y="1584.60" width="511.80" height="201.40" fill="#000"/>
<text font-size="32.8" font-weight="bold" text-anchor="start" fill="#231f20" style="stroke:#231f20" transform="translate(79.6 1567.5) rotate(-90)">Non-Isch</text>
<text font-size="32.8" font-weight="bold" text-anchor="start" fill="#231f20" style="stroke:#231f20" transform="translate(79.0 1743.8) rotate(-90)">Isch</text>
<text font-size="32.8" font-weight="bold" text-anchor="start" fill="#231f20" style="stroke:#231f20" transform="translate(731.2 1552.9) rotate(-90)">Non-Isch</text>
<text font-size="32.8" font-weight="bold" text-anchor="start" fill="#231f20" style="stroke:#231f20" transform="translate(730.4 1728.8) rotate(-90)">Isch</text>
<g clip-path="url(#c1)"><g filter="url(#soft)">
<ellipse cx="167.5" cy="1378.4" rx="1.0" ry="2.6" fill="#25d84a"/>
<ellipse cx="118.6" cy="1401.4" rx="2.8" ry="1.2" fill="#25d84a" transform="rotate(35 118.6 1401.4)"/>
<ellipse cx="162.0" cy="1420.6" rx="3.7" ry="2.2" fill="#25d84a" transform="rotate(-20 162.0 1420.6)"/>
<ellipse cx="196.1" cy="1403.6" rx="1.4" ry="2.4" fill="#25d84a" transform="rotate(30 196.1 1403.6)" opacity="0.6"/>
<ellipse cx="210.5" cy="1430.1" rx="4.3" ry="2.2" fill="#25d84a" transform="rotate(15 210.5 1430.1)"/>
<ellipse cx="225.7" cy="1424.1" rx="2.2" ry="1.5" fill="#25d84a"/>
<ellipse cx="220.1" cy="1425.1" rx="0.8" ry="2.7" fill="#25d84a" transform="rotate(30 220.1 1425.1)" opacity="0.5"/>
<ellipse cx="277.7" cy="1380.0" rx="3.5" ry="5.6" fill="#25d84a" transform="rotate(-20 277.7 1380.0)" opacity="0.9"/>
<ellipse cx="280.5" cy="1392.0" rx="0.9" ry="1.3" fill="#25d84a" opacity="0.5"/>
<ellipse cx="271.1" cy="1427.5" rx="1.9" ry="1.4" fill="#25d84a" opacity="0.8"/>
<ellipse cx="255.1" cy="1432.1" rx="0.9" ry="1.9" fill="#25d84a" opacity="0.5"/>
<ellipse cx="334.2" cy="1425.1" rx="1.3" ry="2.6" fill="#25d84a" opacity="0.4"/>
<ellipse cx="127.6" cy="1455.1" rx="4.8" ry="1.4" fill="#25d84a" transform="rotate(10 127.6 1455.1)"/>
<ellipse cx="157.4" cy="1468.1" rx="1.8" ry="1.8" fill="#25d84a" opacity="0.8"/>
<ellipse cx="207.5" cy="1468.1" rx="3.2" ry="1.0" fill="#25d84a" transform="rotate(35 207.5 1468.1)" opacity="0.8"/>
<ellipse cx="240.1" cy="1481.1" rx="1.6" ry="1.1" fill="#25d84a" opacity="0.35"/>
<ellipse cx="281.1" cy="1481.1" rx="5.6" ry="1.4" fill="#25d84a" transform="rotate(25 281.1 1481.1)"/>
<ellipse cx="315.2" cy="1483.7" rx="2.7" ry="1.3" fill="#25d84a"/>
<ellipse cx="321.2" cy="1487.1" rx="6.5" ry="1.3" fill="#25d84a" transform="rotate(5 321.2 1487.1)"/>
<ellipse cx="335.2" cy="1484.5" rx="5.9" ry="1.4" fill="#25d84a"/>
<ellipse cx="209.1" cy="1501.1" rx="1.5" ry="5.4" fill="#25d84a" transform="rotate(20 209.1 1501.1)"/>
<ellipse cx="202.1" cy="1513.7" rx="1.3" ry="2.7" fill="#25d84a"/>
<ellipse cx="257.1" cy="1511.5" rx="2.4" ry="3.7" fill="#25d84a" transform="rotate(-25 257.1 1511.5)"/>
<ellipse cx="247.7" cy="1501.7" rx="0.8" ry="2.2" fill="#25d84a" opacity="0.4"/>
<ellipse cx="150.0" cy="1509.1" rx="2.7" ry="1.2" fill="#25d84a" transform="rotate(-25 150.0 1509.1)" opacity="0.6"/>
<ellipse cx="172.1" cy="1493.7" rx="1.3" ry="0.9" fill="#25d84a" opacity="0.4"/>
<ellipse cx="106.4" cy="1523.1" rx="1.9" ry="1.4" fill="#25d84a"/>
<ellipse cx="160.0" cy="1529.1" rx="2.4" ry="1.0" fill="#25d84a" transform="rotate(-20 160.0 1529.1)" opacity="0.5"/>
<ellipse cx="193.1" cy="1539.1" rx="0.9" ry="1.6" fill="#25d84a" opacity="0.4"/>
<ellipse cx="194.5" cy="1546.5" rx="1.3" ry="0.9" fill="#25d84a" opacity="0.4"/>
<ellipse cx="178.1" cy="1558.2" rx="1.3" ry="1.3" fill="#25d84a" opacity="0.25"/>
<ellipse cx="229.1" cy="1558.6" rx="5.9" ry="1.4" fill="#25d84a" transform="rotate(15 229.1 1558.6)"/>
<ellipse cx="238.5" cy="1562.2" rx="1.3" ry="3.0" fill="#25d84a" transform="rotate(-25 238.5 1562.2)"/>
<ellipse cx="347.8" cy="1553.2" rx="1.6" ry="1.3" fill="#25d84a" opacity="0.4"/>
<ellipse cx="199.1" cy="1390.4" rx="0.9" ry="1.1" fill="#25d84a" opacity="0.4"/>
<ellipse cx="298.2" cy="1485.1" rx="8.4" ry="4.0" fill="none" stroke="#25d84a" stroke-width="2.2" opacity="1.0" transform="rotate(5 298.2 1485.1)"/>
<ellipse cx="483.7" cy="1371.0" rx="2.7" ry="1.2" fill="#25d84a"/>
<ellipse cx="508.7" cy="1377.6" rx="4.9" ry="2.8" fill="#25d84a" transform="rotate(-10 508.7 1377.6)" opacity="0.75"/>
<ellipse cx="426.1" cy="1381.0" rx="1.6" ry="1.6" fill="#25d84a" opacity="0.5"/>
<ellipse cx="608.6" cy="1387.6" rx="3.2" ry="1.4" fill="#25d84a" transform="rotate(20 608.6 1387.6)"/>
<ellipse cx="443.1" cy="1406.0" rx="1.1" ry="3.0" fill="#25d84a" transform="rotate(-30 443.1 1406.0)" opacity="0.5"/>
<ellipse cx="367.6" cy="1443.1" rx="2.6" ry="3.0" fill="#25d84a" opacity="0.45"/>
<ellipse cx="423.1" cy="1453.1" rx="4.3" ry="1.6" fill="#25d84a" transform="rotate(40 423.1 1453.1)"/>
<ellipse cx="427.7" cy="1459.7" rx="2.2" ry="5.4" fill="#25d84a" transform="rotate(-25 427.7 1459.7)"/>
<ellipse cx="477.7" cy="1459.7" rx="6.1" ry="1.8" fill="#25d84a" transform="rotate(-35 477.7 1459.7)"/>
<ellipse cx="489.7" cy="1469.7" rx="1.1" ry="2.4" fill="#25d84a" opacity="0.35"/>
<ellipse cx="544.5" cy="1466.7" rx="4.9" ry="1.8" fill="#25d84a" transform="rotate(-10 544.5 1466.7)" opacity="0.8"/>
<ellipse cx="534.1" cy="1469.7" rx="1.1" ry="1.1" fill="#25d84a" opacity="0.4"/>
<ellipse cx="600.2" cy="1454.5" rx="3.7" ry="3.7" fill="#25d84a" opacity="0.7"/>
<ellipse cx="592.6" cy="1463.5" rx="4.3" ry="1.4" fill="#25d84a" transform="rotate(20 592.6 1463.5)"/>
<ellipse cx="603.2" cy="1472.1" rx="3.2" ry="1.6" fill="#25d84a" transform="rotate(30 603.2 1472.1)"/>
<ellipse cx="583.8" cy="1476.1" rx="2.9" ry="3.4" fill="#25d84a"/>
<ellipse cx="445.5" cy="1483.1" rx="2.6" ry="3.7" fill="#25d84a" opacity="0.6"/>
<ellipse cx="439.7" cy="1498.7" rx="3.8" ry="1.8" fill="#25d84a" transform="rotate(10 439.7 1498.7)"/>
<ellipse cx="433.7" cy="1504.1" rx="0.9" ry="0.9" fill="#25d84a" opacity="0.4"/>
<ellipse cx="538.1" cy="1522.1" rx="1.9" ry="3.0" fill="#25d84a" transform="rotate(-20 538.1 1522.1)"/>
<ellipse cx="548.2" cy="1528.5" rx="1.6" ry="1.1" fill="#25d84a" opacity="0.4"/>
<ellipse cx="600.6" cy="1536.7" rx="1.3" ry="2.4" fill="#25d84a" transform="rotate(-35 600.6 1536.7)"/>
<ellipse cx="450.1" cy="1551.2" rx="3.2" ry="4.9" fill="#25d84a" opacity="0.45"/>
<ellipse cx="454.1" cy="1543.1" rx="1.3" ry="1.3" fill="#25d84a" opacity="0.4"/>
<ellipse cx="410.0" cy="1568.2" rx="4.3" ry="1.1" fill="#25d84a"/>
<ellipse cx="392.0" cy="1568.2" rx="1.3" ry="1.3" fill="#25d84a" opacity="0.5"/>
<ellipse cx="531.7" cy="1507.1" rx="1.6" ry="1.1" fill="#25d84a" opacity="0.2"/>
<ellipse cx="403.0" cy="1499.1" rx="1.6" ry="1.1" fill="#25d84a" opacity="0.2"/>
</g></g><g clip-path="url(#c2)"><g filter="url(#soft)">
<ellipse cx="155.0" cy="1616.6" rx="2.4" ry="2.4" fill="#25d84a"/>
<ellipse cx="170.1" cy="1585.0" rx="2.7" ry="1.5" fill="#25d84a"/>
<ellipse cx="113.0" cy="1607.0" rx="1.6" ry="4.9" fill="#25d84a" transform="rotate(-10 113.0 1607.0)" opacity="0.7"/>
<ellipse cx="111.0" cy="1591.0" rx="0.8" ry="4.3" fill="#25d84a" opacity="0.4"/>
<ellipse cx="127.0" cy="1643.5" rx="2.4" ry="2.1" fill="#25d84a"/>
<ellipse cx="197.1" cy="1626.4" rx="3.2" ry="1.6" fill="#25d84a" transform="rotate(-30 197.1 1626.4)"/>
<ellipse cx="209.1" cy="1609.4" rx="1.1" ry="1.3" fill="#25d84a" opacity="0.5"/>
<ellipse cx="237.1" cy="1617.0" rx="3.0" ry="1.6" fill="#25d84a"/>
<ellipse cx="248.7" cy="1626.6" rx="3.0" ry="2.5" fill="#25d84a"/>
<ellipse cx="272.7" cy="1630.0" rx="1.3" ry="3.2" fill="#25d84a" transform="rotate(-20 272.7 1630.0)"/>
<ellipse cx="282.1" cy="1593.4" rx="4.3" ry="1.3" fill="#25d84a"/>
<ellipse cx="312.6" cy="1588.0" rx="2.6" ry="3.2" fill="#25d84a"/>
<ellipse cx="349.8" cy="1599.0" rx="1.9" ry="1.4" fill="#25d84a"/>
<ellipse cx="337.2" cy="1627.4" rx="3.2" ry="1.6" fill="#25d84a"/>
<ellipse cx="330.2" cy="1615.0" rx="0.9" ry="3.2" fill="#25d84a" transform="rotate(-20 330.2 1615.0)" opacity="0.5"/>
<ellipse cx="217.7" cy="1644.1" rx="1.1" ry="7.6" fill="#25d84a" transform="rotate(-25 217.7 1644.1)" opacity="0.7"/>
<ellipse cx="230.1" cy="1654.7" rx="2.2" ry="2.2" fill="#25d84a" opacity="0.35"/>
<ellipse cx="253.1" cy="1660.1" rx="1.6" ry="1.1" fill="#25d84a"/>
<ellipse cx="277.7" cy="1653.1" rx="0.9" ry="2.7" fill="#25d84a" transform="rotate(35 277.7 1653.1)" opacity="0.7"/>
<ellipse cx="163.1" cy="1670.5" rx="0.8" ry="1.3" fill="#25d84a" opacity="0.4"/>
<ellipse cx="202.5" cy="1694.5" rx="2.2" ry="2.2" fill="#25d84a"/>
<ellipse cx="193.7" cy="1700.7" rx="1.1" ry="1.9" fill="#25d84a" opacity="0.5"/>
<ellipse cx="107.0" cy="1707.5" rx="2.2" ry="3.0" fill="#25d84a"/>
<ellipse cx="283.1" cy="1687.1" rx="5.4" ry="1.4" fill="#25d84a" transform="rotate(30 283.1 1687.1)" opacity="0.7"/>
<ellipse cx="297.2" cy="1693.5" rx="3.0" ry="2.3" fill="#25d84a"/>
<ellipse cx="271.7" cy="1700.7" rx="0.9" ry="1.1" fill="#25d84a" opacity="0.4"/>
<ellipse cx="309.2" cy="1711.5" rx="1.6" ry="2.4" fill="#25d84a" opacity="0.7"/>
<ellipse cx="321.2" cy="1713.1" rx="1.3" ry="1.3" fill="#25d84a"/>
<ellipse cx="336.2" cy="1715.1" rx="8.1" ry="1.8" fill="#25d84a" transform="rotate(-5 336.2 1715.1)"/>
<ellipse cx="345.2" cy="1723.1" rx="1.5" ry="6.5" fill="#25d84a" transform="rotate(-15 345.2 1723.1)" opacity="0.7"/>
<ellipse cx="350.2" cy="1740.7" rx="3.0" ry="3.0" fill="#25d84a"/>
<ellipse cx="354.2" cy="1743.1" rx="1.1" ry="5.4" fill="#25d84a" opacity="0.6"/>
<ellipse cx="332.6" cy="1742.5" rx="3.5" ry="1.6" fill="#25d84a" transform="rotate(-15 332.6 1742.5)"/>
<ellipse cx="195.1" cy="1719.5" rx="1.6" ry="2.4" fill="#25d84a" opacity="0.7"/>
<ellipse cx="235.5" cy="1725.1" rx="2.2" ry="2.6" fill="#25d84a"/>
<ellipse cx="173.1" cy="1748.1" rx="5.2" ry="2.1" fill="#25d84a" transform="rotate(-25 173.1 1748.1)"/>
<ellipse cx="202.5" cy="1738.1" rx="2.7" ry="0.9" fill="#25d84a" opacity="0.4"/>
<ellipse cx="228.1" cy="1752.1" rx="3.8" ry="1.4" fill="#25d84a" transform="rotate(30 228.1 1752.1)" opacity="0.7"/>
<ellipse cx="111.0" cy="1770.2" rx="2.2" ry="3.2" fill="#25d84a" opacity="0.7"/>
<ellipse cx="133.0" cy="1768.2" rx="1.9" ry="2.7" fill="#25d84a" opacity="0.7"/>
<ellipse cx="212.1" cy="1763.2" rx="3.8" ry="1.3" fill="#25d84a" transform="rotate(-40 212.1 1763.2)" opacity="0.7"/>
<ellipse cx="203.1" cy="1777.2" rx="2.6" ry="5.4" fill="#25d84a" transform="rotate(30 203.1 1777.2)"/>
<ellipse cx="177.1" cy="1779.2" rx="1.5" ry="4.3" fill="#25d84a" transform="rotate(-25 177.1 1779.2)" opacity="0.5"/>
<ellipse cx="311.2" cy="1756.1" rx="1.9" ry="4.3" fill="#25d84a" transform="rotate(-10 311.2 1756.1)" opacity="0.7"/>
<ellipse cx="315.6" cy="1769.2" rx="1.3" ry="3.0" fill="#25d84a" transform="rotate(-25 315.6 1769.2)"/>
<ellipse cx="329.8" cy="1783.2" rx="1.6" ry="0.9" fill="#25d84a" opacity="0.5"/>
<ellipse cx="312.2" cy="1661.1" rx="1.1" ry="2.7" fill="#25d84a" opacity="0.25"/>
<ellipse cx="109.0" cy="1778.2" rx="1.3" ry="1.3" fill="#25d84a" opacity="0.5"/>
<ellipse cx="168.1" cy="1608.0" rx="12.1" ry="6.7" fill="#3ad24c" transform="rotate(-30 168.1 1608.0)"/>
<ellipse cx="119.4" cy="1763.2" rx="3.9" ry="12.4" fill="#3ad24c" transform="rotate(12 119.4 1763.2)"/>
<ellipse cx="413.6" cy="1589.4" rx="4.9" ry="1.4" fill="#25d84a" transform="rotate(15 413.6 1589.4)" opacity="0.7"/>
<ellipse cx="484.1" cy="1586.0" rx="2.7" ry="1.3" fill="#25d84a" opacity="0.7"/>
<ellipse cx="598.2" cy="1599.4" rx="0.9" ry="2.2" fill="#25d84a"/>
<ellipse cx="381.0" cy="1624.0" rx="1.1" ry="2.2" fill="#25d84a" opacity="0.7"/>
<ellipse cx="421.0" cy="1636.0" rx="1.1" ry="4.3" fill="#25d84a" opacity="0.85"/>
<ellipse cx="390.4" cy="1643.1" rx="1.5" ry="3.0" fill="#25d84a"/>
<ellipse cx="433.1" cy="1641.7" rx="1.3" ry="1.1" fill="#25d84a"/>
<ellipse cx="443.1" cy="1637.4" rx="1.5" ry="4.3" fill="#25d84a" transform="rotate(20 443.1 1637.4)" opacity="0.7"/>
<ellipse cx="418.6" cy="1651.1" rx="0.9" ry="1.6" fill="#25d84a" opacity="0.5"/>
<ellipse cx="426.1" cy="1609.0" rx="4.3" ry="0.9" fill="#25d84a" transform="rotate(-30 426.1 1609.0)" opacity="0.4"/>
<ellipse cx="457.1" cy="1659.1" rx="0.9" ry="2.2" fill="#25d84a" transform="rotate(-30 457.1 1659.1)" opacity="0.4"/>
<ellipse cx="566.2" cy="1635.4" rx="0.9" ry="0.9" fill="#25d84a"/>
<ellipse cx="564.6" cy="1648.1" rx="0.9" ry="3.8" fill="#25d84a" transform="rotate(15 564.6 1648.1)" opacity="0.7"/>
<ellipse cx="540.1" cy="1650.1" rx="0.9" ry="2.7" fill="#25d84a" transform="rotate(20 540.1 1650.1)" opacity="0.5"/>
<ellipse cx="537.1" cy="1668.1" rx="1.3" ry="6.5" fill="#25d84a" transform="rotate(5 537.1 1668.1)" opacity="0.7"/>
<ellipse cx="435.1" cy="1682.1" rx="1.9" ry="4.3" fill="#25d84a" transform="rotate(-25 435.1 1682.1)" opacity="0.7"/>
<ellipse cx="373.6" cy="1685.1" rx="0.9" ry="1.9" fill="#25d84a" transform="rotate(25 373.6 1685.1)" opacity="0.5"/>
<ellipse cx="577.2" cy="1688.1" rx="3.2" ry="6.5" fill="#25d84a" transform="rotate(-10 577.2 1688.1)" opacity="0.85"/>
<ellipse cx="605.8" cy="1681.7" rx="3.0" ry="1.3" fill="#25d84a" opacity="0.85"/>
<ellipse cx="590.2" cy="1685.1" rx="6.5" ry="0.8" fill="#25d84a" transform="rotate(-15 590.2 1685.1)" opacity="0.4"/>
<ellipse cx="545.1" cy="1699.5" rx="3.2" ry="3.2" fill="#25d84a" opacity="0.7"/>
<ellipse cx="557.2" cy="1698.1" rx="2.2" ry="3.2" fill="#25d84a" opacity="0.7"/>
<ellipse cx="561.2" cy="1694.1" rx="18.4" ry="0.8" fill="#25d84a" transform="rotate(-17 561.2 1694.1)" opacity="0.4"/>
<ellipse cx="584.2" cy="1705.1" rx="0.9" ry="9.7" fill="#25d84a" transform="rotate(-20 584.2 1705.1)" opacity="0.45"/>
<ellipse cx="595.2" cy="1722.7" rx="1.9" ry="1.9" fill="#25d84a" opacity="0.7"/>
<ellipse cx="469.7" cy="1706.1" rx="2.4" ry="2.4" fill="#25d84a"/>
<ellipse cx="456.1" cy="1701.1" rx="2.2" ry="5.9" fill="#25d84a" transform="rotate(15 456.1 1701.1)" opacity="0.7"/>
<ellipse cx="395.6" cy="1707.7" rx="0.9" ry="1.3" fill="#25d84a"/>
<ellipse cx="441.1" cy="1713.1" rx="0.8" ry="3.2" fill="#25d84a" opacity="0.4"/>
<ellipse cx="513.1" cy="1724.1" rx="2.2" ry="7.6" fill="#25d84a" transform="rotate(5 513.1 1724.1)" opacity="0.55"/>
<ellipse cx="500.1" cy="1714.1" rx="6.5" ry="0.8" fill="#25d84a" transform="rotate(25 500.1 1714.1)" opacity="0.45"/>
<ellipse cx="536.1" cy="1730.1" rx="2.2" ry="7.6" fill="#25d84a" transform="rotate(-35 536.1 1730.1)" opacity="0.7"/>
<ellipse cx="560.8" cy="1721.1" rx="1.1" ry="8.6" fill="#25d84a" transform="rotate(-5 560.8 1721.1)" opacity="0.45"/>
<ellipse cx="474.5" cy="1735.1" rx="2.7" ry="5.4" fill="#25d84a" opacity="0.85"/>
<ellipse cx="548.2" cy="1741.1" rx="1.6" ry="1.6" fill="#25d84a" opacity="0.7"/>
<ellipse cx="593.2" cy="1746.1" rx="1.3" ry="4.3" fill="#25d84a" transform="rotate(15 593.2 1746.1)" opacity="0.7"/>
<ellipse cx="611.8" cy="1730.7" rx="1.1" ry="1.5" fill="#25d84a" opacity="0.7"/>
<ellipse cx="496.1" cy="1747.5" rx="1.6" ry="2.7" fill="#25d84a" opacity="0.45"/>
<ellipse cx="508.1" cy="1748.1" rx="1.6" ry="3.2" fill="#25d84a" opacity="0.45"/>
<ellipse cx="382.0" cy="1747.1" rx="1.5" ry="2.2" fill="#25d84a" opacity="0.7"/>
<ellipse cx="387.0" cy="1745.5" rx="1.1" ry="0.9" fill="#25d84a" opacity="0.4"/>
<ellipse cx="457.1" cy="1755.1" rx="0.9" ry="0.9" fill="#25d84a" opacity="0.7"/>
<ellipse cx="385.0" cy="1768.2" rx="2.7" ry="3.8" fill="#25d84a" opacity="0.7"/>
<ellipse cx="398.0" cy="1769.6" rx="8.6" ry="0.8" fill="#25d84a" opacity="0.4"/>
<ellipse cx="429.1" cy="1765.2" rx="0.9" ry="4.3" fill="#25d84a" transform="rotate(25 429.1 1765.2)" opacity="0.5"/>
<ellipse cx="424.5" cy="1774.2" rx="1.9" ry="3.8" fill="#25d84a" opacity="0.7"/>
<ellipse cx="419.0" cy="1772.2" rx="2.7" ry="1.1" fill="#25d84a" transform="rotate(30 419.0 1772.2)" opacity="0.5"/>
<ellipse cx="608.2" cy="1761.1" rx="8.6" ry="0.9" fill="#25d84a" transform="rotate(20 608.2 1761.1)" opacity="0.7"/>
<ellipse cx="521.7" cy="1781.2" rx="3.2" ry="1.6" fill="#25d84a" transform="rotate(-30 521.7 1781.2)" opacity="0.85"/>
<ellipse cx="588.2" cy="1783.2" rx="1.6" ry="2.2" fill="#25d84a" opacity="0.7"/>
<ellipse cx="363.0" cy="1779.2" rx="1.5" ry="1.3" fill="#25d84a" opacity="0.7"/>
<ellipse cx="384.0" cy="1784.2" rx="0.9" ry="1.5" fill="#25d84a" opacity="0.5"/>
<ellipse cx="439.1" cy="1751.1" rx="0.8" ry="3.2" fill="#25d84a" opacity="0.4"/>
<ellipse cx="592.2" cy="1772.2" rx="0.8" ry="3.2" fill="#25d84a" opacity="0.4"/>
<ellipse cx="482.1" cy="1707.1" rx="7.2" ry="7.2" fill="none" stroke="#25d84a" stroke-width="2.4" opacity="1.0" transform="rotate(0 482.1 1707.1)"/>
<path d="M 487.7 1591.8 Q 504.5 1590.6 509.3 1603.0 Q 510.5 1615.0 500.9 1623.4 Q 501.3 1611.0 496.5 1603.0 Q 492.9 1596.6 487.7 1591.8 Z" fill="#35c946" stroke="none" stroke-width="0.0" opacity="1.0" stroke-linecap="round" stroke-linejoin="round"/>
</g></g>
<g clip-path="url(#c4)"><g filter="url(#soft2)">
<ellipse cx="819.1" cy="1607.4" rx="10.4" ry="6.0" fill="none" stroke="#e3201c" stroke-width="2.0" opacity="1.0" transform="rotate(-25 819.1 1607.4)"/>
<ellipse cx="770.0" cy="1766.8" rx="2.8" ry="13.6" fill="none" stroke="#e3201c" stroke-width="1.6" opacity="0.9" transform="rotate(8 770.0 1766.8)"/>
<path d="M 1139.7 1592.6 Q 1151.1 1590.6 1158.5 1605.0 Q 1160.5 1616.0 1151.3 1623.0 Q 1154.5 1609.0 1148.1 1600.0 Q 1144.1 1595.0 1139.7 1592.6 Z" fill="none" stroke="#e3201c" stroke-width="1.8" opacity="1.0" stroke-linecap="round" stroke-linejoin="round"/>
<path d="M 1129.7 1713.1 Q 1119.7 1705.1 1128.1 1699.5 Q 1136.1 1696.1 1142.1 1704.1" fill="none" stroke="#c8191a" stroke-width="1.2" opacity="0.9" stroke-linecap="round" stroke-linejoin="round"/>
<path d="M 1191.1 1655.1 Q 1190.1 1683.1 1202.2 1697.1 M 1210.2 1695.1 Q 1220.2 1689.1 1228.2 1690.1 M 1150.1 1713.1 Q 1162.1 1717.1 1168.1 1725.1" fill="none" stroke="#5a0a0a" stroke-width="1.2" opacity="0.6" stroke-linecap="round" stroke-linejoin="round"/>
</g></g>
<g clip-path="url(#c3)"><g filter="url(#soft2)">
<ellipse cx="949.5" cy="1483.6" rx="11.6" ry="5.4" fill="none" stroke="#cc1a1c" stroke-width="1.9" opacity="1.0" transform="rotate(8 949.5 1483.6)"/>
</g></g>
<rect x="492.70" y="1765.00" width="106.10" height="4.80" fill="#f6e81f"/>
<rect x="1144.40" y="1763.30" width="105.60" height="4.90" fill="#f6e81f"/>
<text font-size="20.5" text-anchor="start" fill="#f6e81f" transform="translate(509.8 1758.0) scale(1.105 1)">100µm</text>
<text font-size="20.5" text-anchor="start" fill="#f6e81f" transform="translate(1161.8 1757.4) scale(1.105 1)">100µm</text>
</svg>
</body></html>
